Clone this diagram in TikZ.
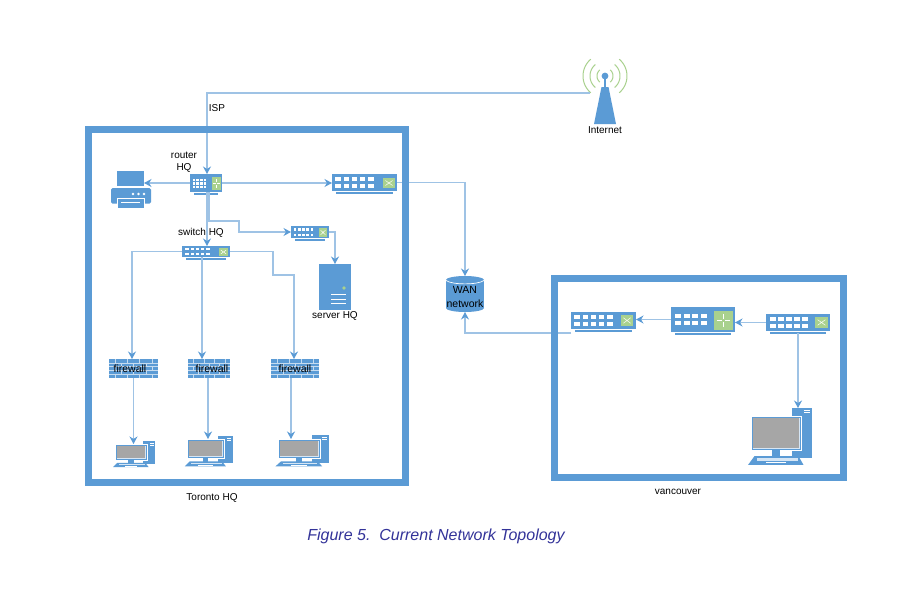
\documentclass[tikz,border=0pt]{standalone}
\usepackage{fontspec}
\setmainfont{Liberation Sans}
\usetikzlibrary{arrows.meta,calc}
\definecolor{netblue}{HTML}{5B9BD5}
\definecolor{linkblue}{HTML}{9FC3E5}
\definecolor{netgreen}{HTML}{A9D18E}
\definecolor{screengray}{HTML}{A6A6A6}
\definecolor{capblue}{HTML}{333399}
\tikzset{
  dev/.style={fill=netblue,draw=none,inner sep=0pt,outer sep=0pt,rectangle},
  link/.style={draw=linkblue,line width=1.25pt},
  arr/.style={link,-{Stealth[length=7.5pt,width=8pt,color=netblue]}},
  frame/.style={draw=netblue,line width=7pt,fill=none},
  lbl/.style={font=\fontsize{10}{12}\selectfont,text=black,inner sep=0pt,align=center},
  fwlbl/.style={lbl,font=\fontsize{10.5}{12}\selectfont},
}
% named box with an underline
\newcommand\devbox[5]{%
  \node[dev,minimum width={(#4-(#2))*1pt},minimum height={(#5-(#3))*1pt}] (#1) at ({(#2+#4)/2},{(#3+#5)/2}) {};
  \fill[netblue] ({#2+4},{#5+1.4}) rectangle ({#4-4},{#5+2.6});
}
% green panel with crossing lines: x0 y0 x1 y1
\newcommand\greenbox[4]{%
  \fill[netgreen] (#1,#2) rectangle (#3,#4);
  \draw[white,line width=0.5pt] ({#1+0.2*(#3-#1)},{#2+0.25*(#4-#2)}) -- ({#1+0.8*(#3-#1)},{#2+0.75*(#4-#2)})
     ({#1+0.2*(#3-#1)},{#2+0.75*(#4-#2)}) -- ({#1+0.8*(#3-#1)},{#2+0.25*(#4-#2)});
}
% green panel with a plus of lines: x0 y0 x1 y1
\newcommand\greenplus[4]{%
  \fill[netgreen] (#1,#2) rectangle (#3,#4);
  \draw[white,line width=0.7pt] ({#1+0.15*(#3-#1)},{(#2+#4)/2}) -- ({#1+0.4*(#3-#1)},{(#2+#4)/2})
     ({#1+0.6*(#3-#1)},{(#2+#4)/2}) -- ({#1+0.85*(#3-#1)},{(#2+#4)/2})
     ({(#1+#3)/2},{#2+0.15*(#4-#2)}) -- ({(#1+#3)/2},{#2+0.4*(#4-#2)})
     ({(#1+#3)/2},{#2+0.6*(#4-#2)}) -- ({(#1+#3)/2},{#2+0.85*(#4-#2)});
}
% ports: x0 x1 y0 y1 cols rows
\newcommand\ports[6]{%
  \pgfmathsetmacro\hw{0.33*(#2-#1)/(#5-1)}
  \pgfmathsetmacro\hh{0.24*(#4-#3)/(#6-1)*(#6<3 ? 1 : 1.6)}
  \foreach \c in {1,...,#5}{\foreach \r in {1,...,#6}{%
    \pgfmathsetmacro\px{#1+(\c-1)*(#2-#1)/(#5-1)}
    \pgfmathsetmacro\py{#3+(\r-1)*(#4-#3)/(#6-1)}
    \fill[white] ({\px-\hw},{\py-\hh}) rectangle ({\px+\hw},{\py+\hh});
  }}%
}
% computer: name, monitor x0 y0 x1 y1, tower x0 y0 x1 y1
\newcommand\pcdev[9]{%
  \fill[netblue] (#6,#7) rectangle (#8,#9);
  \fill[white] ({#8-0.42*(#8-#6)},{#7+2}) rectangle ({#8-0.12*(#8-#6)},{#7+3});
  \fill[white] ({#8-0.42*(#8-#6)},{#7+4}) rectangle ({#8-0.12*(#8-#6)},{#7+5});
  \node[dev,draw=white,line width=0.6pt,minimum width={(#4-(#2))*1pt},minimum height={(#5-(#3))*1pt}] (#1) at ({(#2+#4)/2},{(#3+#5)/2}) {};
  \fill[white!75!netblue] ({#2+1.5},{#3+1.5}) rectangle ({#4-1.5},{#5-1.5});
  \fill[screengray] ({#2+2.3},{#3+2.3}) rectangle ({#4-2.3},{#5-2.3});
  \fill[netblue] ({(#2+#4)/2-0.08*(#4-#2)},#5) rectangle ({(#2+#4)/2+0.08*(#4-#2)},{#5+0.2*(#5-#3)});
  \fill[netblue] ({#2+0.07*(#4-#2)},{#5+0.18*(#5-#3)}) -- ({#4-0.05*(#4-#2)},{#5+0.18*(#5-#3)}) -- ({#4+0.05*(#4-#2)},{#5+0.44*(#5-#3)}) -- ({#2-0.06*(#4-#2)},{#5+0.44*(#5-#3)}) -- cycle;
  \fill[white!75!netblue] ({#2+0.12*(#4-#2)},{#5+0.24*(#5-#3)}) rectangle ({#4-0.06*(#4-#2)},{#5+0.32*(#5-#3)});
  \fill[white] ({#2+0.3*(#4-#2)},{#5+0.36*(#5-#3)}) rectangle ({#4-0.3*(#4-#2)},{#5+0.39*(#5-#3)});
}
% firewall: name x0 y0 x1 y1
\newcommand\fwall[5]{%
  \node[dev,minimum width={(#4-(#2))*1pt},minimum height={(#5-(#3))*1pt}] (#1) at ({(#2+#4)/2},{(#3+#5)/2}) {};
  \foreach \r in {1,2,3,4}{\draw[white!65!netblue,line width=0.45pt] (#2,{#3+\r*(#5-#3)/5}) -- (#4,{#3+\r*(#5-#3)/5});}
  \foreach \r in {0,2,4}{\foreach \k in {1,3,5,7}{\draw[white!65!netblue,line width=0.45pt] ({#2+\k*(#4-#2)/8},{#3+\r*(#5-#3)/5}) -- ++(0,{(#5-#3)/5});}}
  \foreach \r in {1,3}{\foreach \k in {2,4,6}{\draw[white!65!netblue,line width=0.45pt] ({#2+\k*(#4-#2)/8},{#3+\r*(#5-#3)/5}) -- ++(0,{(#5-#3)/5});}}
}
\begin{document}
\begin{tikzpicture}[x=1pt,y=-1pt]
\useasboundingbox (0,0) rectangle (906,597);
\fill[white] (0,0) rectangle (906,597);

% Internet tower
\node[dev,fill=none,minimum width=22pt,minimum height=48pt] (tower) at (605,100) {};
\fill[netblue] (601.5,87) -- (608.5,87) -- (616,124) -- (594,124) -- cycle;
\draw[netblue,line width=1.8pt] (605,76) -- (605,90);
\fill[netblue] (605,76) circle (3.4);
\foreach \r/\s in {8/50,15/50,22/50}{%
  \draw[netgreen,line width=1pt,domain={180-\s}:{180+\s},samples=24] plot ({605+\r*cos(\x)},{76+\r*sin(\x)});
  \draw[netgreen,line width=1pt,domain={-\s}:{\s},samples=24] plot ({605+\r*cos(\x)},{76+\r*sin(\x)});
}
\coordinate (feed) at (590,93);

% Printer
\node[dev,minimum width=27pt,minimum height=15pt] (printer) at (130.5,178.5) {};
\fill[netblue,rounded corners=1.5pt] (111,203.5) -- (111,188) -- (151,188) -- (151,203.5) -- cycle;
\fill[netblue,draw=white,line width=0.8pt] (117,198) rectangle (144,208);
\fill[white] (121,201.5) rectangle (140,202.6);
\foreach \q in {133,138.5,144}{\fill[white] (\q,194) circle (1.3);}

% Toronto devices
\devbox{router}{190}{174}{222}{192}
\greenplus{212}{177}{221}{190}
\ports{194}{205}{180}{187}{4}{3}

\devbox{swtop}{332}{174}{397}{191}
\greenbox{383}{178}{395}{188}
\ports{338}{371}{179}{186}{5}{2}

\devbox{swsmall}{291}{226}{329}{238}
\greenbox{319}{228}{327}{237}
\ports{295}{312}{229.5}{235}{5}{2}

\devbox{swhq}{182}{246}{230}{257}
\greenbox{219}{248}{228}{256}
\ports{187}{208}{249}{254}{5}{2}

\node[dev,minimum width=32pt,minimum height=46pt] (server) at (335,287) {};
\fill[netgreen] (344,288) circle (1.9);
\foreach \q in {294,299,303.5}{\fill[white] (331,{\q-0.5}) rectangle (346,{\q+0.5});}

\fwall{fw1}{109}{359}{158}{378}
\fwall{fw2}{188}{359}{230}{378}
\fwall{fw3}{271}{359}{319}{378}

\pcdev{pc1}{115}{444}{147}{460}{143}{441}{155}{464}
\pcdev{pc2}{187}{439}{224}{458}{218}{436}{233}{463}
\pcdev{pc3}{278}{439}{320}{458}{312}{435}{329}{463}

% WAN
\node[dev,fill=none,minimum width=38pt,minimum height=36pt] (wan) at (465,294) {};
\fill[netblue] (465,280) ellipse[x radius=19,y radius=4];
\fill[netblue] (465,308) ellipse[x radius=19,y radius=4];
\fill[netblue] (446,280) rectangle (484,308);
\draw[white,line width=0.7pt] (446,280.5) .. controls (452,285) and (478,285) .. (484,280.5);

% Vancouver devices
\devbox{swleft}{571}{312}{636}{329}
\greenbox{621}{315}{633}{326}
\ports{577}{610}{317}{324}{5}{2}

\devbox{rtvan}{671}{307}{735}{332}
\greenplus{714}{311}{733}{330}
\ports{678}{704}{316}{323}{4}{2}

\devbox{swright}{766}{314}{830}{331}
\greenbox{815}{317}{828}{328}
\ports{773}{805}{319}{326}{5}{2}

\pcdev{pcvan}{751}{416}{801}{450}{792}{408}{812}{458}

% Connectors
\coordinate (rtin) at (207,174);
\draw[arr] (feed) -- (207,93) -- (rtin);
\draw[arr] (router.west) -- (router.west -| printer.east);
\draw[arr] (router.east) -- (router.east -| swtop.west);
\draw[arr] (swtop.east) -- (swtop.east -| wan.north) -- (wan.north);
\draw[arr] (rtin |- router.south) -- (rtin |- swhq.north);
\draw[arr] (209,192) -- (209,221) -- (239,221) -- (239,232) -- (swsmall.west);
\draw[arr] (swsmall.east) -- (335,232) -- (server.north);
\draw[arr] (swhq.west) -- (132,251.5) -- (132,359);
\draw[arr] (202,257) -- (202,359);
\draw[arr] (swhq.east) -- (273,251.5) -- (273,275) -- (294,275) -- (294,359);
\draw[arr] (fw1.south) -- (fw1.south |- pc1.north);
\draw[arr] (208,378) -- (208,439);
\draw[arr] (291,378) -- (291,439);
\draw[arr] ([yshift=-4pt]swleft.south west) -- ([yshift=-4pt]swleft.south west -| wan.south) -- (wan.south);
\draw[arr] (rtvan.west) -- (swleft.east |- rtvan.west);
\draw[arr] (swright.west) -- (rtvan.east |- swright.west);
\draw[arr] (798,333) -- (798,408);

% Site frames
\draw[frame] (88.5,129) rectangle (405.5,482.5);
\draw[frame] (554.5,278.5) rectangle (843.5,477.5);

% Labels
\node[lbl] (tisp) at (217,108) {ISP};
\node[lbl] (trouter) at (184,162) {router\\HQ};
\node[lbl] (tswhq) at (201,233) {switch HQ};
\node[lbl] (tserver) at (335,316) {server HQ};
\node[lbl] (tinet) at (605,130) {Internet};
\node[lbl,font=\fontsize{10.5}{13.5}\selectfont] (twan) at (465,297) {WAN\\network};
\node[fwlbl] (tf1) at (130,368.5) {firewall};
\node[fwlbl] (tf2) at (212,368.5) {firewall};
\node[fwlbl] (tf3) at (295,368.5) {firewall};
\node[lbl] (ttor) at (212,498) {Toronto HQ};
\node[lbl] (tvan) at (678,492) {vancouver};
\node[lbl,font=\fontsize{16}{18}\selectfont\itshape,text=capblue] (cap) at (436,536) {Figure 5.\ \ Current Network Topology};
\end{tikzpicture}
\end{document}
